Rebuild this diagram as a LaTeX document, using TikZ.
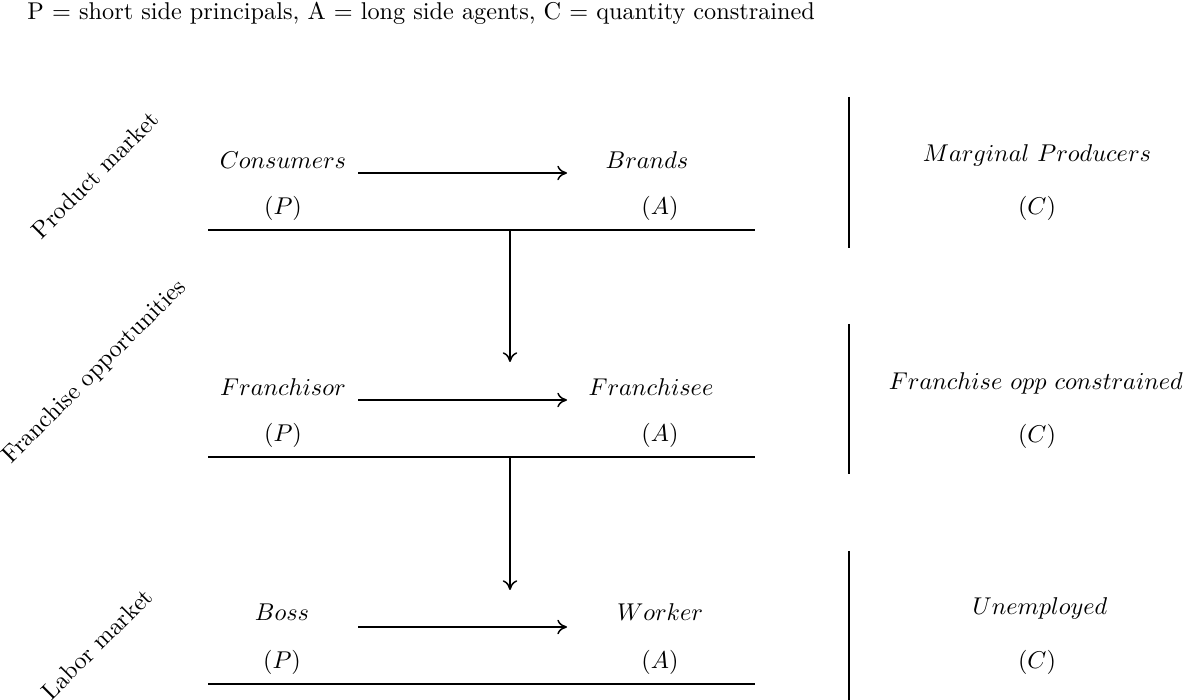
\documentclass[tikz,border=0pt]{standalone}
\usetikzlibrary{arrows.meta}
\begin{document}
\begin{tikzpicture}[x=0.412pt,y=-0.412pt,
  lbl/.style={inner sep=0pt},
  rule/.style={line width=0.8pt},
  arr/.style={line width=0.6pt,-{To[length=4pt,width=6pt]}},
  side/.style={inner sep=0pt,rotate=45}]
\useasboundingbox (0,0) rectangle (1188,700);
\node[lbl,anchor=west] (title) at (27,13) {P = short side principals, A = long side agents, C = quantity constrained};
% row labels
\node[side] (r1) at (95,175) {Product market};
\node[side] (r2) at (95,372) {Franchise opportunities};
\node[side] (r3) at (97,644) {Labor market};
% row 1
\node[lbl] (cons) at (283,160) {$Consumers$};
\node[lbl] (brand) at (647,160) {$Brands$};
\node[lbl] (p1) at (283,208) {$(P)$};
\node[lbl] (a1) at (660,208) {$(A)$};
\coordinate (h1s) at (358,173); \coordinate (h1e) at (567,173);
\draw[arr] (h1s) -- (h1e);
\coordinate (l1a) at (208,230); \coordinate (l1b) at (755,230);
\draw[rule] (l1a) -- (l1b);
\node[lbl] (mp) at (1037,155) {$Marginal\ Producers$};
\node[lbl] (c1) at (1037,208) {$(C)$};
\coordinate (v1a) at (849,97); \coordinate (v1b) at (849,248);
\draw[rule] (v1a) -- (v1b);
\coordinate (d1a) at (510,230); \coordinate (d1b) at (510,362);
\draw[arr] (d1a) -- (d1b);
% row 2
\node[lbl] (fsor) at (283,387) {$Franchisor$};
\node[lbl] (fsee) at (651,387) {$Franchisee$};
\node[lbl] (p2) at (283,435) {$(P)$};
\node[lbl] (a2) at (660,435) {$(A)$};
\coordinate (h2s) at (358,400); \coordinate (h2e) at (567,400);
\draw[arr] (h2s) -- (h2e);
\coordinate (l2a) at (208,457); \coordinate (l2b) at (755,457);
\draw[rule] (l2a) -- (l2b);
\node[lbl] (foc) at (1036,383) {$Franchise\ opp\ constrained$};
\node[lbl] (c2) at (1037,436) {$(C)$};
\coordinate (v2a) at (849,324); \coordinate (v2b) at (849,474);
\draw[rule] (v2a) -- (v2b);
\coordinate (d2a) at (510,457); \coordinate (d2b) at (510,590);
\draw[arr] (d2a) -- (d2b);
% row 3
\node[lbl] (boss) at (282,612) {$Boss$};
\node[lbl] (work) at (660,612) {$Worker$};
\node[lbl] (p3) at (282,662) {$(P)$};
\node[lbl] (a3) at (660,662) {$(A)$};
\coordinate (h3s) at (358,627); \coordinate (h3e) at (567,627);
\draw[arr] (h3s) -- (h3e);
\coordinate (l3a) at (208,684); \coordinate (l3b) at (755,684);
\draw[rule] (l3a) -- (l3b);
\node[lbl] (unemp) at (1040,608) {$Unemployed$};
\node[lbl] (c3) at (1037,662) {$(C)$};
\coordinate (v3a) at (849,551); \coordinate (v3b) at (849,700);
\draw[rule] (v3a) -- (v3b);
\end{tikzpicture}
\end{document}
